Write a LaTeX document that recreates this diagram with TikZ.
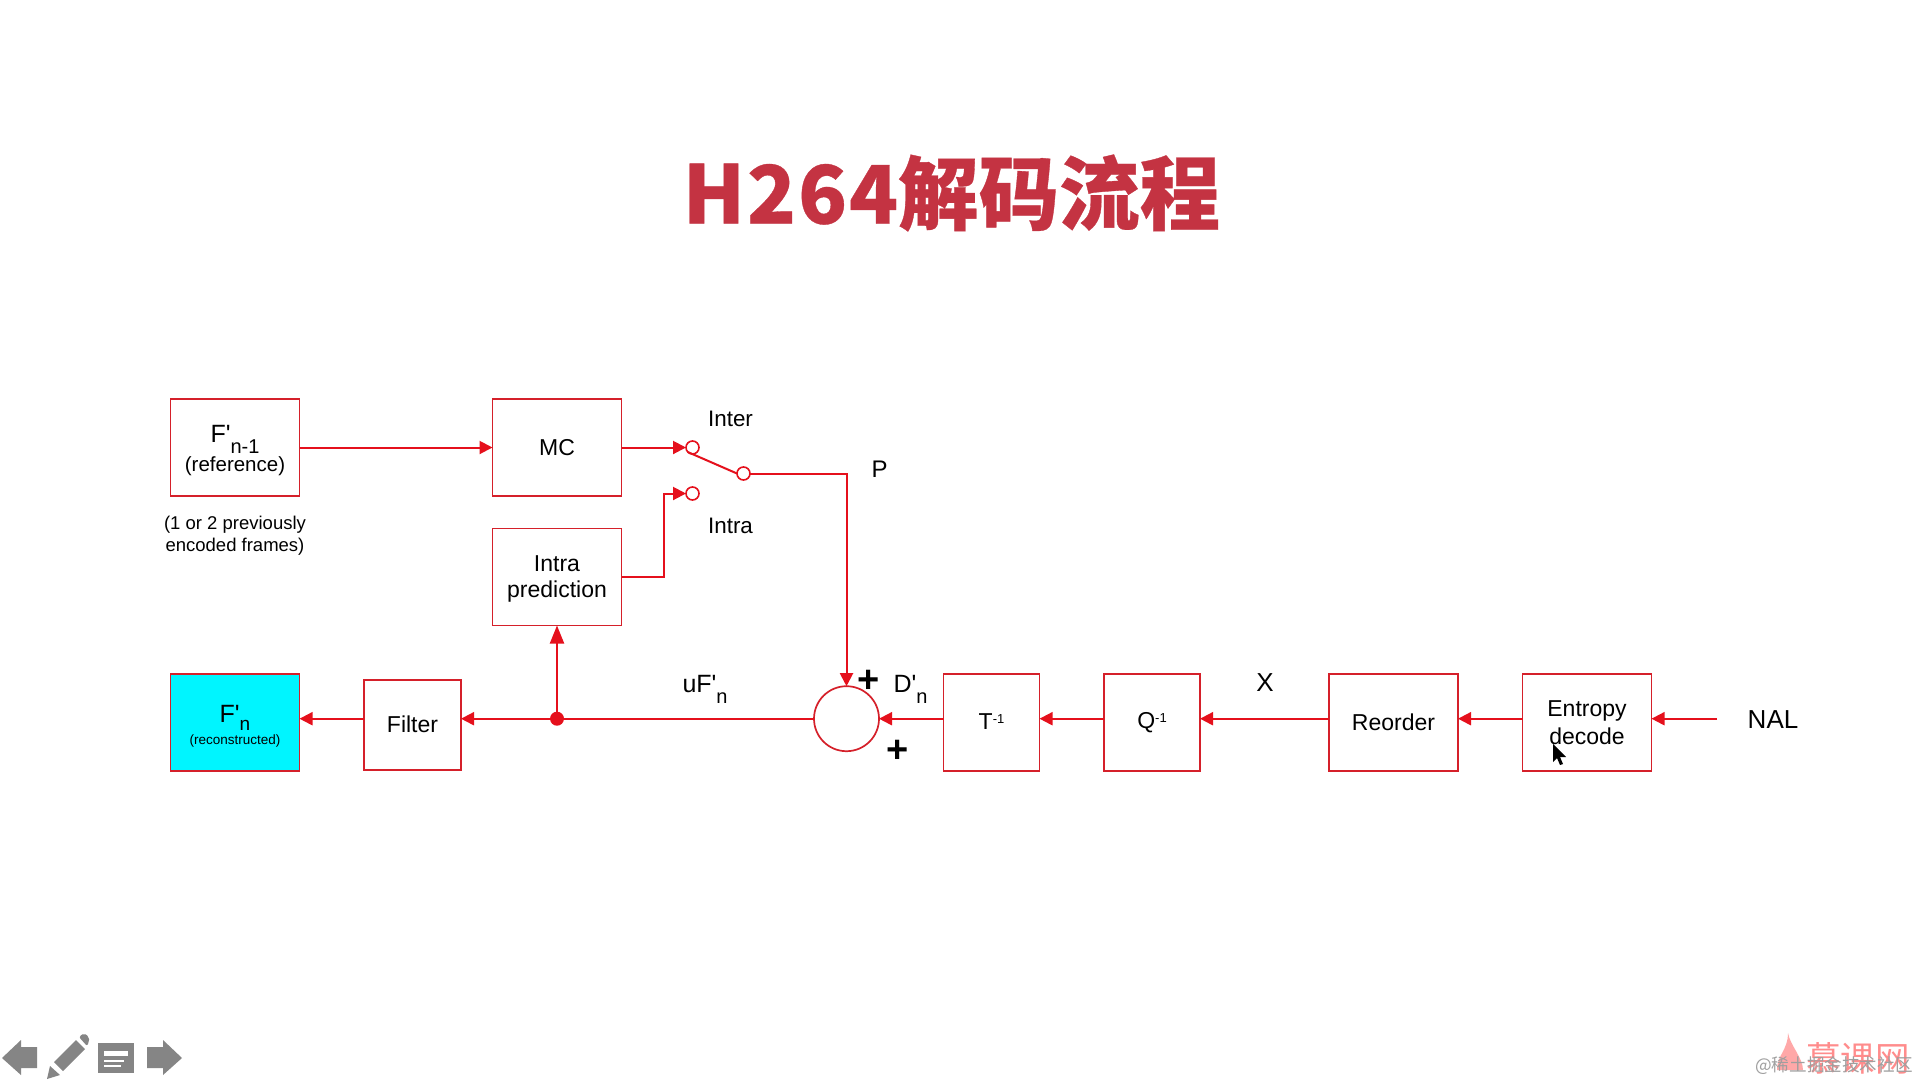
\documentclass[tikz,border=0pt]{standalone}
\usepackage{fontspec}
\setmainfont{Liberation Sans}
\newfontfamily\cjk{Noto Sans CJK SC}
\newfontfamily\prmfont{Liberation Sans}
\usetikzlibrary{arrows.meta,calc}
\definecolor{boxred}{HTML}{D5202A}
\definecolor{linered}{HTML}{E5101C}
\definecolor{titlered}{HTML}{C43342}
\definecolor{iconGrey}{HTML}{858585}
\definecolor{recfill}{HTML}{00F5FF}
\newcommand\fsz[1]{\fontsize{#1}{#1}\selectfont}
\newcommand\prm{{\prmfont\symbol{39}}}
\tikzset{
  blockbox/.style={draw=boxred,line width=1.8pt,fill=white,inner sep=0pt,outer sep=0pt,align=center,font=\fsz{23}},
  flow/.style={draw=linered,line width=2pt,-{Triangle[length=13pt,width=13pt,fill=linered]}},
  plainflow/.style={draw=linered,line width=2pt},
  contact/.style={circle,draw=linered,line width=1.6pt,fill=white,inner sep=0pt,outer sep=0pt,minimum size=13pt},
  lab/.style={inner sep=0pt,outer sep=0pt,align=center,font=\fsz{22.4}},
  icon/.style={fill=iconGrey,draw=none},
}
\begin{document}
\begin{tikzpicture}[x=1pt,y=-1pt]
\useasboundingbox (0,0) rectangle (1920,1080);
\fill[white] (0,0) rectangle (1920,1080);
% title
\node[inner sep=0pt,text=titlered,font={\cjk\bfseries\addfontfeature{FakeBold=0.4}\fontsize{80.5}{80.5}\selectfont}] (title) at (951.5,193) {H\hspace{2pt}2\hspace{2pt}6\hspace{2pt}4解码流程};
% blocks
\node[blockbox,minimum width=129pt,minimum height=97pt] (fref) at (235,447.5) {\rule{0pt}{23pt}\fsz{25}F\prm\raisebox{-11pt}{\fsz{20}n-1}\\[1.5pt]\fsz{20.5}(reference)};
\node[blockbox,minimum width=129pt,minimum height=97pt] (mc) at (557,447.5) {MC};
\node[blockbox,minimum width=129pt,minimum height=97pt] (intra) at (557,577) {\rule{0pt}{20pt}Intra\\[3pt]prediction};
\node[blockbox,fill=recfill,minimum width=129pt,minimum height=97pt] (frec) at (235,722.5) {\rule{0pt}{24pt}\fsz{25}F\prm\raisebox{-8.5pt}{\fsz{19}n}\\[-1pt]\fsz{13.5}(reconstructed)};
\node[blockbox,minimum width=97pt,minimum height=90pt] (filter) at (412.5,725) {\raisebox{0.7pt}{Filter}};
\node[blockbox,minimum width=96pt,minimum height=97pt] (tinv) at (991.5,722.5) {\raisebox{1.5pt}{T\raisebox{6pt}{\fsz{13}-1}}};
\node[blockbox,minimum width=96pt,minimum height=97pt] (qinv) at (1152,722.5) {\raisebox{1.5pt}{Q\raisebox{6pt}{\fsz{13}-1}}};
\node[blockbox,minimum width=129pt,minimum height=97pt] (reorder) at (1393.5,722.5) {\raisebox{1pt}{Reorder}};
\node[blockbox,minimum width=129pt,minimum height=97pt] (entropy) at (1587,722.5) {Entropy\\[5pt]decode};
\node[circle,draw=boxred,line width=1.7pt,fill=white,inner sep=0pt,outer sep=0pt,minimum size=65pt] (sum) at (846.5,718.7) {};
% switch
\node[contact] (inter) at (692.5,447.5) {};
\node[contact] (intrac) at (692.5,493.5) {};
\node[contact] (pole) at (743.5,473.5) {};
\node[circle,fill=linered,inner sep=0pt,outer sep=0pt,minimum size=14pt] (dot) at (557,718.7) {};
\coordinate (m) at (0,718.7);
\coordinate (nalend) at (1717,718.7);
% connectors
\draw[flow] (fref.east |- inter) -- (mc.west |- inter);
\draw[flow] (mc.east |- inter) -- (inter.west);
\draw[plainflow] (inter.south west) -- (pole.west);
\draw[flow] (pole.east) -| (sum.north);
\draw[flow] (intra.east) -| ($(intrac.west)+(-22,0)$) -- (intrac.west);
\draw[flow,-{Triangle[length=18pt,width=14pt,fill=linered]}] (dot) -- (intra.south);
\draw[plainflow] (sum.west) -- (dot);
\draw[flow] (dot) -- (filter.east |- m);
\draw[flow] (filter.west |- m) -- (frec.east |- m);
\draw[flow] (tinv.west |- m) -- (sum.east |- m);
\draw[flow] (qinv.west |- m) -- (tinv.east |- m);
\draw[flow] (reorder.west |- m) -- (qinv.east |- m);
\draw[flow] (entropy.west |- m) -- (reorder.east |- m);
\draw[flow] (nalend) -- (entropy.east |- m);
% labels
\node[lab] (linter) at (730.5,418.5) {Inter};
\node[lab] (lintra) at (730.5,526) {Intra};
\node[lab,font=\fsz{24}] (lp) at (879.5,469) {P};
\node[lab,font=\fsz{18.5},align=center] (lprev) at (235,535.5) {(1 or 2 previously\\[4pt]encoded frames)};
\node[lab,anchor=base west,font=\fsz{25}] (luf) at (682.5,692) {uF\prm\raisebox{-11pt}{\fsz{20}n}};
\node[lab,anchor=base west,font=\fsz{25}] (ld) at (893.5,692) {D\prm\raisebox{-11pt}{\fsz{20}n}};
\node[lab,font=\fsz{26}] (lx) at (1265,683) {X};
\node[lab,font=\fsz{26}] (lnal) at (1773,719.5) {NAL};
\node[lab,font=\bfseries\fsz{38}] (plusa) at (868.5,681) {+};
\node[lab,font=\bfseries\fsz{38}] (plusb) at (897.5,751) {+};
% mouse cursor
\fill[black] (1553,744) -- (1553,762) -- (1557,758) -- (1560,765) -- (1563,764) -- (1560,757) -- (1566,757) -- cycle;
% bottom icons
\fill[icon] (2,1058) -- (21,1040) -- (21,1047) -- (37,1047) -- (37,1068) -- (21,1068) -- (21,1075) -- cycle;
\fill[icon] (47,1079) -- (50,1066) -- (60,1075) -- cycle;
\fill[icon] (54,1062) -- (76,1040) -- (85,1049) -- (63,1071) -- cycle;
\fill[icon,rounded corners=2pt] (79,1037) -- (84,1033) -- (89,1037) -- (89,1042) -- (87,1046) -- cycle;
\fill[icon] (98,1043) rectangle (134,1073);
\fill[white] (104,1051) rectangle (128,1056);
\fill[white] (104,1060) rectangle (124,1062);
\fill[white] (104,1065) rectangle (121,1067);
\fill[icon] (182,1058) -- (163,1040) -- (163,1047) -- (147,1047) -- (147,1068) -- (163,1068) -- (163,1075) -- cycle;
% watermark
\fill[red!45!white,opacity=.75] (1788,1033) .. controls (1790,1045) and (1803,1058) .. (1803,1070) -- (1777,1070) .. controls (1777,1055) and (1788,1050) .. (1788,1033) -- cycle;
\node[inner sep=0pt,text=red!45!white,font={\cjk\fsz{34.5}}] (logo) at (1858,1058) {慕课网};
\node[inner sep=0pt,text=gray!75,font={\cjk\fsz{17.6}}] (wm) at (1834,1066) {@稀土掘金技术社区};
\end{tikzpicture}
\end{document}
